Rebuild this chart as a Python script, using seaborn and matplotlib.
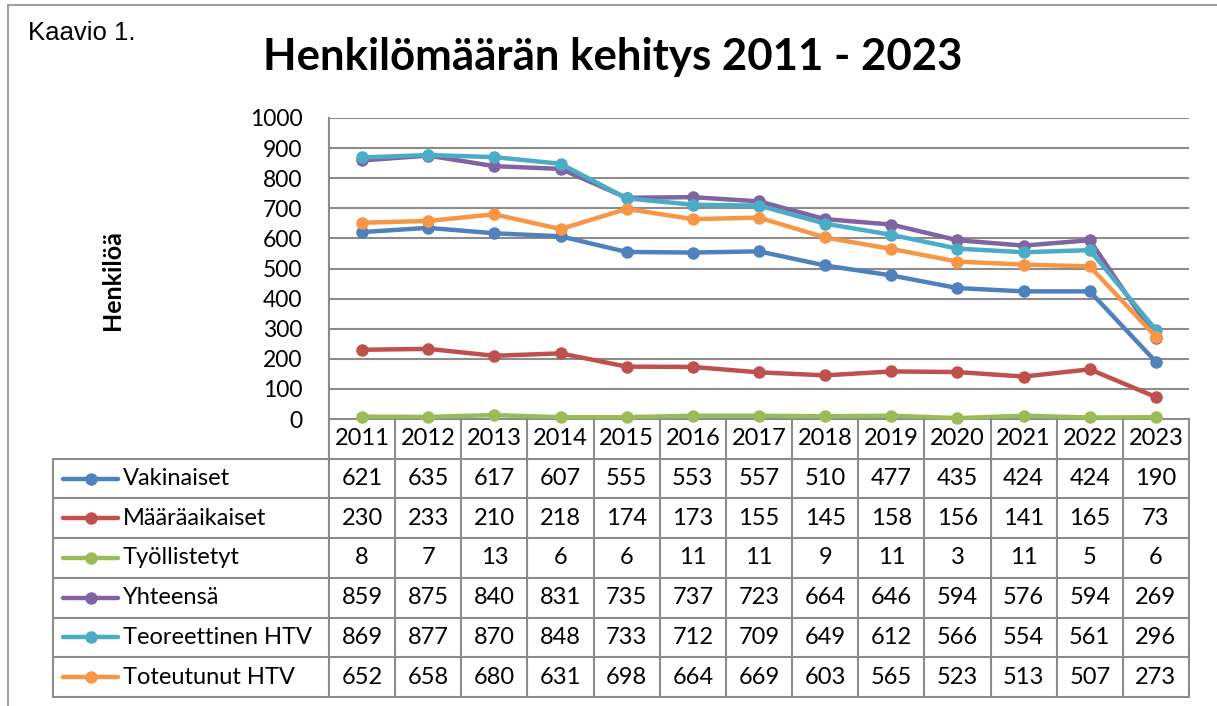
import numpy as np
import pandas as pd
import matplotlib
matplotlib.use("Agg")
import matplotlib.pyplot as plt
import seaborn as sns

years = ["2011", "2012", "2013", "2014", "2015", "2016", "2017",
         "2018", "2019", "2020", "2021", "2022", "2023"]
vakinaiset = [621, 635, 617, 607, 555, 553, 557, 510, 477, 435, 424, 424, 190]
maaraaikaiset = [230, 233, 210, 218, 174, 173, 155, 145, 158, 156, 141, 165, 73]
tyollistetyt = [8, 7, 13, 6, 6, 11, 11, 9, 11, 3, 11, 5, 6]
yhteensa = [859, 875, 840, 831, 735, 737, 723, 664, 646, 594, 576, 594, 269]
teoreettinen = [869, 877, 870, 848, 733, 712, 709, 649, 612, 566, 554, 561, 296]
toteutunut = [652, 658, 680, 631, 698, 664, 669, 603, 565, 523, 513, 507, 273]

series_names = ["Vakinaiset", "Määräaikaiset", "Työllistetyt", "Yhteensä",
                "Teoreettinen HTV", "Toteutunut HTV"]
series_values = [vakinaiset, maaraaikaiset, tyollistetyt, yhteensa,
                 teoreettinen, toteutunut]
colors = ["#4F81BD", "#C0504D", "#9BBB59", "#8064A2", "#4BACC6", "#F79646"]

title = "Henkilömäärän kehitys 2011 - 2023"
ylabel = "Henkilöä"
corner = "Kaavio 1."

sns.set_theme(style="white")
plt.rcParams["font.family"] = ["Lato", "DejaVu Sans"]

W, H = 1217, 706
fig = plt.figure(figsize=(W / 100, H / 100), dpi=100)

def fx(px):
    return px / W

def fy(py):
    return 1 - py / H

# plot area in pixels
L, R, T, B = 329, 1189, 118, 419
ax = fig.add_axes([fx(L), fy(B), fx(R) - fx(L), fy(T) - fy(B)])

rows = []
for name, vals in zip(series_names, series_values):
    for i, v in enumerate(vals):
        rows.append({"i": i, "value": v, "series": name})
df = pd.DataFrame(rows)

grid_c = "#8c8c8c"
for name, col in zip(series_names, colors):
    sub = df[df["series"] == name]
    sns.lineplot(data=sub, x="i", y="value", ax=ax, color=col, marker="o",
                 markersize=9, linewidth=3.2, markeredgewidth=0,
                 clip_on=False, zorder=3)

ax.set_xlim(-0.5, len(years) - 0.5)
ax.set_ylim(0, 1000)
ax.set_yticks(np.arange(0, 1001, 100))
ax.set_yticklabels([str(v) for v in range(0, 1001, 100)], fontsize=16.5)
ax.set_xticks([])
ax.set_xlabel("")
ax.set_ylabel("")
for y in range(100, 1001, 100):
    ax.axhline(y, color=grid_c, lw=1.5, zorder=1)
for s in ["top", "right"]:
    ax.spines[s].set_visible(False)
ax.spines["left"].set_color(grid_c)
ax.spines["left"].set_linewidth(1.5)
ax.spines["bottom"].set_color(grid_c)
ax.spines["bottom"].set_linewidth(1.5)
ax.tick_params(axis="y", length=3, color=grid_c, pad=16, labelcolor="black")

# Table below
TB = 697
tax = fig.add_axes([fx(L), fy(TB), fx(R) - fx(L), fy(B) - fy(TB)])
tax.set_xlim(-0.5, len(years) - 0.5)
nrows = len(series_names) + 1
tax.set_ylim(nrows, 0)
tax.axis("off")
unit = (R - L) / len(years)

def dx(px):
    return (px - L) / unit - 0.5

x_left = dx(53)
for k in range(len(years) + 1):
    tax.plot([k - 0.5, k - 0.5], [0, nrows], color=grid_c, lw=1.5, clip_on=False)
tax.plot([x_left, x_left], [1, nrows], color=grid_c, lw=1.5, clip_on=False)
for r in range(1, nrows + 1):
    tax.plot([x_left, len(years) - 0.5], [r, r], color=grid_c, lw=1.5, clip_on=False)

fs_tab = 17
for i, yr in enumerate(years):
    tax.text(i, 0.5, yr, ha="center", va="center", fontsize=fs_tab, color="black")

for r, (name, vals, col) in enumerate(zip(series_names, series_values, colors)):
    yc = r + 1.5
    tax.plot([dx(63), dx(118)], [yc, yc], color=col, lw=3.2, clip_on=False,
             solid_capstyle="round")
    tax.plot([dx(91)], [yc], marker="o", color=col, markersize=9,
             markeredgewidth=0, clip_on=False)
    tax.text(dx(123), yc, name, ha="left", va="center", fontsize=fs_tab, color="black")
    for i, v in enumerate(vals):
        tax.text(i, yc, str(v), ha="center", va="center", fontsize=fs_tab, color="black")

# Texts
fig.text(fx(613), fy(57), title, ha="center", va="center", fontsize=31.5,
         fontweight="bold", color="black")
fig.text(fx(28), fy(33), corner, ha="left", va="center", fontsize=18.5,
         family=["Liberation Sans", "DejaVu Sans"], color="black")
fig.text(fx(113), fy(280), ylabel, ha="center", va="center", fontsize=18,
         fontweight="bold", rotation=90, color="black")

# outer border
border_c = "#a0a0a0"
fig.add_artist(plt.Line2D([fx(8), fx(W + 5)], [fy(5), fy(5)], color=border_c,
                          lw=1.5, transform=fig.transFigure))
fig.add_artist(plt.Line2D([fx(8), fx(8)], [fy(5), fy(H + 5)], color=border_c,
                          lw=1.5, transform=fig.transFigure))

fig.savefig("out.png", dpi=100, facecolor="white")
